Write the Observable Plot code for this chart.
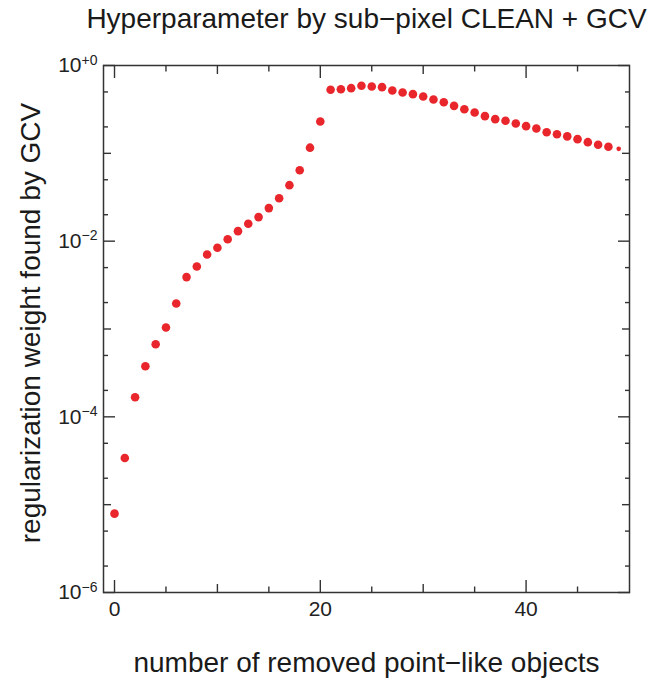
<!DOCTYPE html>
<html>
<head>
<meta charset="utf-8">
<script src="https://cdn.jsdelivr.net/npm/d3@7"></script>
<script src="https://cdn.jsdelivr.net/npm/@observablehq/plot@0.6"></script>
<style>
  html, body { margin: 0; padding: 0; background: #fff; }
  #chart svg { display: block; }
</style>
</head>
<body>
<div id="chart"></div>
<script>
// ---- data ----
const removedObjects = [0,1,2,3,4,5,6,7,8,9,10,11,12,13,14,15,16,17,18,19,20,21,22,23,24,25,26,27,28,29,30,31,32,33,34,35,36,37,38,39,40,41,42,43,44,45,46,47,48,49];
const gcvWeight = [7.9e-6,3.4e-5,1.67e-4,3.77e-4,6.7e-4,1.04e-3,1.95e-3,3.9e-3,5.15e-3,7.05e-3,
  8.4e-3,0.0105,0.013,0.0158,0.0188,0.0238,0.0308,0.0434,0.0643,0.116,
  0.230,0.529,0.537,0.552,0.587,0.577,0.567,0.519,0.493,0.472,
  0.444,0.410,0.382,0.347,0.318,0.292,0.265,0.245,0.235,0.219,
  0.204,0.192,0.174,0.165,0.156,0.145,0.134,0.125,0.119,0.1125];

const xMajorTicks = [0, 20, 40];
const xMidTicks = [10, 30];
const xMinorTicks = [5, 15, 25, 35, 45];
const yMajorTicks = [1, 1e-2, 1e-4, 1e-6];
const yMajorExponents = ["+0", "\u22122", "\u22124", "\u22126"];
const yMidTicks = [1e-1, 1e-3, 1e-5];
const yMinorTicks = [0.5, 0.2, 0.05, 0.02, 5e-3, 2e-3, 5e-4, 2e-4, 5e-5, 2e-5, 5e-6, 2e-6];

const titleText = "Hyperparameter by sub\u2212pixel CLEAN + GCV";
const xLabelText = "number of removed point\u2212like objects";
const yLabelText = "regularization weight found by GCV";

// ---- table ----
const points = removedObjects.map((x, i) => ({x, y: gcvWeight[i]}));

const red = "#e8262b";
const ink = "#333";
const font = "'Liberation Sans', Arial, Helvetica, sans-serif";

const expOf = new Map(yMajorTicks.map((t, i) => [t, yMajorExponents[i]]));

const tickAxesY = (ticks, size) => [
  Plot.axisY({ticks, anchor: "left", tickSize: -size, fill: "none", stroke: ink, strokeWidth: 1.4, label: null}),
  Plot.axisY({ticks, anchor: "right", tickSize: -size, fill: "none", stroke: ink, strokeWidth: 1.4, label: null})
];
const tickAxesX = (ticks, size) => [
  Plot.axisX({ticks, anchor: "bottom", tickSize: -size, fill: "none", stroke: ink, strokeWidth: 1.4, label: null}),
  Plot.axisX({ticks, anchor: "top", tickSize: -size, fill: "none", stroke: ink, strokeWidth: 1.4, label: null})
];

const chart = Plot.plot({
  width: 648,
  height: 685,
  marginLeft: 103,
  marginRight: 19,
  marginTop: 65,
  marginBottom: 93,
  style: {fontFamily: font, background: "#fff", color: "#222"},
  x: {domain: [-1.07, 50.05]},
  y: {type: "log", domain: [1e-6, 1]},
  marks: [
    ...tickAxesY(yMajorTicks, 12),
    ...tickAxesY(yMidTicks, 8),
    ...tickAxesY(yMinorTicks, 5),
    ...tickAxesX(xMajorTicks, 12),
    ...tickAxesX(xMidTicks, 8),
    ...tickAxesX(xMinorTicks, 5.5),
    Plot.axisY({ticks: yMajorTicks, anchor: "left", tickSize: 0, tickPadding: 6, fontSize: 21,
      tickFormat: d => "10^" + expOf.get(d), label: null}),
    Plot.axisX({ticks: xMajorTicks, anchor: "bottom", tickSize: 0, tickPadding: 9, fontSize: 21,
      tickFormat: d => String(d), label: null}),
    Plot.frame({stroke: ink, strokeWidth: 1.5}),
    Plot.dot(points.slice(0, -1), {x: "x", y: "y", r: 4.3, fill: red}),
    Plot.dot(points.slice(-1), {x: "x", y: "y", r: 2.3, fill: red}),
    Plot.text([titleText], {frameAnchor: "top", lineAnchor: "middle", textAnchor: "middle", dy: -46, dx: 0, fontSize: 28, fill: "#1a1a1a"}),
    Plot.text([xLabelText], {frameAnchor: "bottom", lineAnchor: "middle", textAnchor: "middle", dy: 71, fontSize: 28, fill: "#1a1a1a"}),
    Plot.text([yLabelText], {frameAnchor: "left", lineAnchor: "middle", textAnchor: "middle", rotate: -90, dx: -72, dy: -6, fontSize: 28, fill: "#1a1a1a"})
  ]
});

document.getElementById("chart").appendChild(chart);

// superscript exponents on the y tick labels
d3.select(chart).selectAll('g[aria-label="y-axis tick label"] text').each(function() {
  const t = this.textContent;
  if (!t.includes("^")) return;
  const [base, exp] = t.split("^");
  const sel = d3.select(this);
  sel.text(null);
  sel.append("tspan").text(base);
  sel.append("tspan").attr("dy", "-0.55em").attr("font-size", 14).text(exp);
});
</script>
</body>
</html>
